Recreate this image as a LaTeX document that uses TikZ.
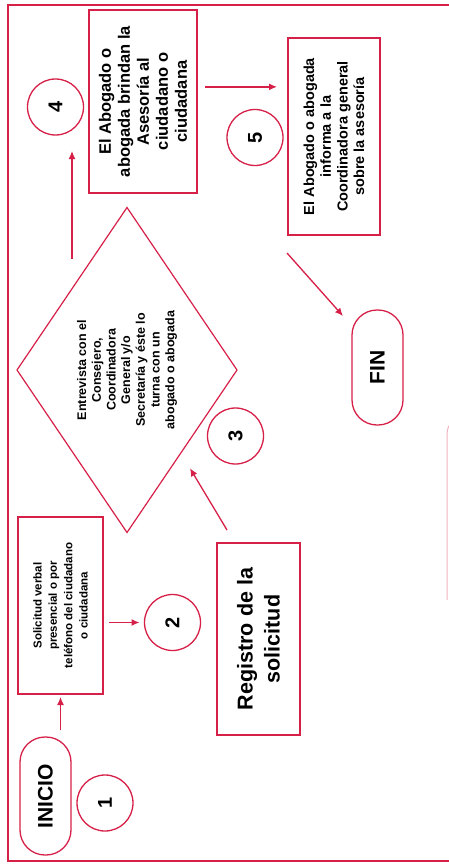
\documentclass[tikz,border=0pt]{standalone}
\usepackage{fontspec}
\setmainfont{Liberation Sans}
\usetikzlibrary{shapes.geometric,arrows.meta,calc}
\definecolor{linered}{RGB}{214,32,72}
\tikzset{
  box/.style={rectangle, draw=linered, line width=1.3pt, rotate=90, align=center, font=\bfseries, inner sep=0pt, outer sep=0pt},
  term/.style={box, rounded corners=25pt, font=\bfseries\fontsize{21}{25}\selectfont},
  num/.style={circle, draw=linered, line width=1.3pt, minimum size=56pt, inner sep=0pt, outer sep=0pt, rotate=90, font=\bfseries\fontsize{20}{24}\selectfont},
  decision/.style={diamond, draw=linered, line width=1.2pt, rotate=90, aspect=1.5, inner sep=0pt, outer sep=0pt, align=center, font=\bfseries\fontsize{12.5}{14.7}\selectfont},
  arr/.style={-{Latex[length=8pt,width=7pt]}, draw=linered, line width=1.3pt}
}
\begin{document}
\begin{tikzpicture}[x=1pt, y=-1pt]
\useasboundingbox (0,0) rectangle (449,867);
\clip (0,0) rectangle (449,867);
% outer frame, runs off the right edge
\draw[linered, line width=1.6pt] (480,5) -- (8,5) -- (8,861) -- (480,861);
% piece of a shape cut off at the right edge
\draw[linered!35, line width=1pt, rounded corners=18pt] (480,416) -- (447,416) -- (447,600);

\node[term, minimum width=118pt, minimum height=51pt] (inicio) at (45.5,796) {INICIO};
\node[num] (n1) at (105,803) {1};
\node[box, minimum width=177pt, minimum height=85pt, font=\bfseries\fontsize{11.5}{15.3}\selectfont] (solic) at (60.5,605.5) {Solicitud verbal\\presencial o por\\teléfono del ciudadano\\o ciudadana};
\node[num] (n2) at (172.5,622.5) {2};
\node[box, minimum width=192pt, minimum height=83pt, font=\bfseries\fontsize{21.5}{27}\selectfont] (reg) at (258.5,639) {Registro de la\\solicitud};
\node[decision, minimum width=325pt, minimum height=220pt] (dec) at (127,370) {Entrevista con el\\Consejero,\\Coordinadora\\General y/o\\Secretaría y éste lo\\turna con un\\abogado o abogada};
\node[num] (n3) at (235.5,436) {3};
\node[box, minimum width=183pt, minimum height=108pt, font=\bfseries\fontsize{16.5}{19}\selectfont] (asesor) at (143,101.5) {El Abogado o\\abogada brindan la\\Asesoría al\\ciudadano o\\ciudadana};
\node[num] (n4) at (55.5,107) {4};
\node[box, minimum width=197pt, minimum height=92pt, font=\bfseries\fontsize{14.5}{16.7}\selectfont] (informe) at (334,136.5) {El Abogado o abogada\\informa a la\\Coordinadora general\\sobre la asesoría};
\node[num] (n5) at (255,137.5) {5};
\node[term, minimum width=115pt, minimum height=51pt] (fin) at (377.5,367.5) {FIN};

\coordinate (a45) at ($(asesor.south)!0.16!(asesor.south east)$);

\draw[arr, shorten <=7pt, shorten >=3pt] (solic |- inicio.east) -- (solic.west);
\draw[arr, shorten <=6pt, shorten >=5pt] (solic.south |- n2) -- (n2);
\draw[arr] ($(reg.north east)+(10,-13)$) -- ($(dec.south west)+(8,17)$);
\draw[arr, shorten <=30pt, shorten >=16pt] (dec.north east) -- (dec.north east |- n4.west);
\draw[arr, shorten <=8pt, shorten >=11pt] (a45) -- (a45 -| informe.north);
\draw[arr] ($(informe.north west)+(-1,18)$) -- ($(fin.north east)+(-9,6)$);
\end{tikzpicture}
\end{document}
